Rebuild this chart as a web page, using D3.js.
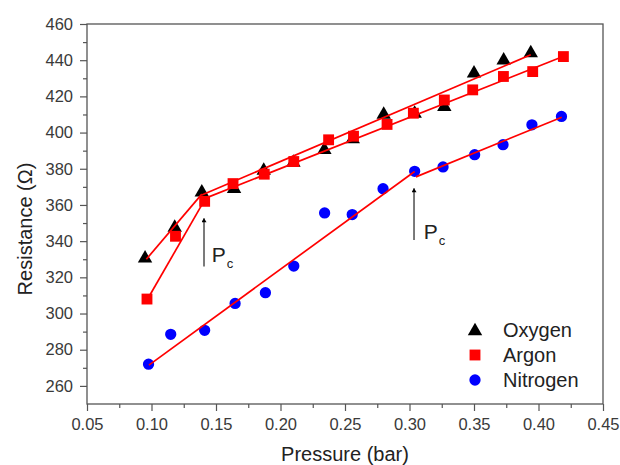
<!DOCTYPE html>
<html>
<head>
<meta charset="utf-8">
<script src="https://cdn.jsdelivr.net/npm/d3@7"></script>
<style>
  html, body { margin: 0; padding: 0; background: #fff; }
  svg { display: block; font-family: "Liberation Sans", Arial, sans-serif; }
</style>
</head>
<body>
<div id="chart"></div>
<script>
// ---- data ----
const oxygenP = [0.095, 0.118, 0.139, 0.164, 0.187, 0.210, 0.234, 0.256, 0.280, 0.304, 0.327, 0.350, 0.373, 0.394];
const oxygenR = [331, 348, 367.5, 369.5, 379.5, 384, 391, 397, 410.5, 411, 414.8, 433.3, 440.5, 444.5];

const argonP = [0.0965, 0.1186, 0.1412, 0.1632, 0.1874, 0.2103, 0.2373, 0.2566, 0.2826, 0.303, 0.327, 0.349, 0.3728, 0.3955, 0.4193];
const argonR = [308, 342.7, 362, 371.8, 377, 384, 396, 398, 404.5, 410.7, 418, 423.6, 431, 433.7, 442];

const nitrogenP = [0.0977, 0.1149, 0.1412, 0.1648, 0.1883, 0.2103, 0.2342, 0.2556, 0.2795, 0.304, 0.326, 0.3505, 0.3725, 0.3949, 0.4178];
const nitrogenR = [272, 288.5, 290.7, 305.6, 311.5, 326.2, 355.6, 354.7, 369, 378.6, 381, 387.8, 393.3, 404.3, 408.9];

// linear fit segments: [p1, r1, p2, r2]
const oxygenFit = [[0.096, 330, 0.139, 366], [0.139, 365.5, 0.394, 443]];
const argonFit = [[0.097, 308, 0.141, 362.5], [0.141, 363.5, 0.419, 442]];
const nitrogenFit = [[0.098, 271.5, 0.304, 378.5], [0.305, 375.5, 0.418, 408.5]];

// critical pressure annotations: arrow x, arrow base R, arrow tip R, label x, label R
const pcArrows = [
  { p: 0.1407, r0: 326, r1: 352.7, lp: 0.1467, lr: 328.7 },
  { p: 0.3035, r0: 340.7, r1: 369.2, lp: 0.3110, lr: 341.2 }
];

const xTicks = [0.05, 0.10, 0.15, 0.20, 0.25, 0.30, 0.35, 0.40, 0.45];
const xMinor = [0.075, 0.125, 0.175, 0.225, 0.275, 0.325, 0.375, 0.425];
const yTicks = [260, 280, 300, 320, 340, 360, 380, 400, 420, 440, 460];
const yMinor = [270, 290, 310, 330, 350, 370, 390, 410, 430, 450];

const legendItems = ["Oxygen", "Argon", "Nitrogen"];

// ---- layout ----
const W = 620, H = 465;
const L = 87, R = 603, T = 24, B = 404;
const frameColor = "#555";

const svg = d3.select("#chart").append("svg").attr("width", W).attr("height", H);

const x = d3.scaleLinear().domain([0.05, 0.45]).range([L, R]);
const y = d3.scaleLinear().domain([250, 460]).range([B, T]);

// frame
svg.append("rect").attr("x", L).attr("y", T).attr("width", R - L).attr("height", B - T)
  .attr("fill", "none").attr("stroke", frameColor).attr("stroke-width", 1.3);

function styleAxis(g) {
  g.select(".domain").remove();
  g.selectAll(".tick line").attr("stroke", frameColor).attr("stroke-width", 1.2);
  g.selectAll(".tick text").attr("fill", "#3a3a3a").style("font-size", "16.5px");
}

svg.append("g").attr("transform", `translate(0,${B})`)
  .call(d3.axisBottom(x).tickValues(xTicks).tickFormat(d3.format(".2f")).tickSize(7).tickPadding(7))
  .call(styleAxis);
svg.append("g").attr("transform", `translate(0,${B})`)
  .call(d3.axisBottom(x).tickValues(xMinor).tickFormat("").tickSize(4))
  .call(styleAxis);
svg.append("g").attr("transform", `translate(${L},0)`)
  .call(d3.axisLeft(y).tickValues(yTicks).tickFormat(d3.format("d")).tickSize(7).tickPadding(7))
  .call(styleAxis);
svg.append("g").attr("transform", `translate(${L},0)`)
  .call(d3.axisLeft(y).tickValues(yMinor).tickFormat("").tickSize(4))
  .call(styleAxis);

// axis titles
svg.append("text").attr("x", 345).attr("y", 461).attr("text-anchor", "middle")
  .style("font-size", "20px").attr("fill", "#222").text("Pressure (bar)");
svg.append("text").attr("transform", "translate(32,229) rotate(-90)").attr("text-anchor", "middle")
  .style("font-size", "20px").attr("fill", "#222").text("Resistance (Ω)");

// markers
const triSym = d3.symbol().type(d3.symbolTriangle).size(90);
const sqSym = d3.symbol().type(d3.symbolSquare).size(118);
const cirSym = d3.symbol().type(d3.symbolCircle).size(100);

const oxy = oxygenP.map((p, i) => [p, oxygenR[i]]);
const arg = argonP.map((p, i) => [p, argonR[i]]);
const nit = nitrogenP.map((p, i) => [p, nitrogenR[i]]);

svg.append("g").selectAll("path").data(nit).join("path")
  .attr("d", cirSym).attr("fill", "#0000ff")
  .attr("transform", d => `translate(${x(d[0])},${y(d[1])})`);
svg.append("g").selectAll("path").data(oxy).join("path")
  .attr("d", triSym).attr("fill", "#000")
  .attr("transform", d => `translate(${x(d[0])},${y(d[1]) + 1})`);
svg.append("g").selectAll("path").data(arg).join("path")
  .attr("d", sqSym).attr("fill", "#ff0000")
  .attr("transform", d => `translate(${x(d[0])},${y(d[1])})`);

// fit lines
const fits = [].concat(oxygenFit, argonFit, nitrogenFit);
svg.append("g").selectAll("line").data(fits).join("line")
  .attr("x1", d => x(d[0])).attr("y1", d => y(d[1]))
  .attr("x2", d => x(d[2])).attr("y2", d => y(d[3]))
  .attr("stroke", "#ff0000").attr("stroke-width", 1.7);

// Pc arrows
svg.append("defs").append("marker").attr("id", "ah")
  .attr("viewBox", "0 0 8 10").attr("refX", 8).attr("refY", 5)
  .attr("markerWidth", 8).attr("markerHeight", 5).attr("markerUnits", "userSpaceOnUse")
  .attr("orient", "auto")
  .append("path").attr("d", "M0,0 L8,5 L0,10 Z").attr("fill", "#000");

const ann = svg.append("g");
pcArrows.forEach(a => {
  ann.append("line").attr("x1", x(a.p)).attr("x2", x(a.p))
    .attr("y1", y(a.r0)).attr("y2", y(a.r1))
    .attr("stroke", "#222").attr("stroke-width", 1.2).attr("marker-end", "url(#ah)");
  const t = ann.append("text").attr("x", x(a.lp)).attr("y", y(a.lr))
    .style("font-size", "21px").attr("fill", "#222");
  t.append("tspan").text("P");
  t.append("tspan").attr("dy", 6).style("font-size", "13px").attr("dx", 1).text("c");
});

// legend
const legSyms = [triSym, sqSym, cirSym];
const legCols = ["#000", "#ff0000", "#0000ff"];
const leg = svg.append("g");
legendItems.forEach((name, i) => {
  const cy = 330 + i * 25;
  leg.append("path").attr("d", legSyms[i]())
    .attr("fill", legCols[i]).attr("transform", `translate(475,${cy + (i === 0 ? 1 : 0)})`);
  leg.append("text").attr("x", 503).attr("y", cy).attr("dy", "0.35em")
    .style("font-size", "20px").attr("fill", "#222").text(name);
});
</script>
</body>
</html>
